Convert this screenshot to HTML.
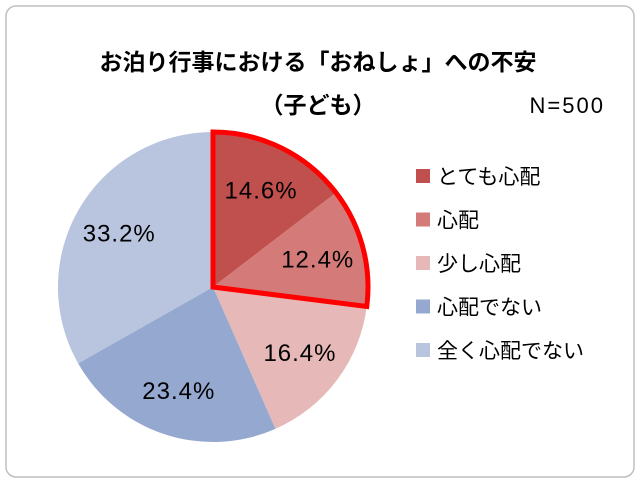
<!DOCTYPE html>
<html><head><meta charset="utf-8"><style>
body{margin:0;background:#fff;}
svg{display:block;font-family:"Liberation Sans","Noto Sans CJK JP",sans-serif;}
</style></head><body>
<svg width="640" height="483" viewBox="0 0 640 483">
<rect x="6" y="6" width="628" height="471" rx="10" fill="#fff" stroke="#bfbfbf" stroke-width="1.5"/>
<text x="318" y="70" text-anchor="middle" font-size="23" font-weight="bold" fill="#000">お泊り行事における「おねしょ」への不安</text>
<text x="318" y="113" text-anchor="middle" font-size="23" font-weight="bold" fill="#000">（子ども）</text>
<text x="605" y="113" text-anchor="end" font-size="22" letter-spacing="2" fill="#000">N=500</text>
<g id="pie"></g>
<g id="legend"></g>
</svg>
<script>
const categories=["とても心配","心配","少し心配","心配でない","全く心配でない"];
const values=[14.6,12.4,16.4,23.4,33.2];
const colors=["#c0504d","#d47b79","#e6b9b8","#95a8d0","#b9c4df"];
const highlighted=[0,1];
const NS="http://www.w3.org/2000/svg";
const cx=213,cy=287,r=155;
const pie=document.getElementById('pie');
const total=values.reduce((a,b)=>a+b,0);
function pt(a,rr){return [cx+rr*Math.sin(a),cy-rr*Math.cos(a)];}
let acc=0;const angs=[];
values.forEach((v,i)=>{
  const a0=acc/total*2*Math.PI;acc+=v;const a1=acc/total*2*Math.PI;angs.push([a0,a1]);
  const p0=pt(a0,r),p1=pt(a1,r);const large=(a1-a0)>Math.PI?1:0;
  const path=document.createElementNS(NS,'path');
  path.setAttribute('d',`M${cx},${cy}L${p0[0]},${p0[1]}A${r},${r} 0 ${large} 1 ${p1[0]},${p1[1]}Z`);
  path.setAttribute('fill',colors[i]);
  
  
  pie.appendChild(path);
});
values.forEach((v,i)=>{
  const m=(angs[i][0]+angs[i][1])/2;const p=pt(m,r*0.7);
  const t=document.createElementNS(NS,'text');
  t.setAttribute('x',p[0]);t.setAttribute('y',p[1]+9);
  t.setAttribute('text-anchor','middle');t.setAttribute('font-size','24');t.setAttribute('letter-spacing','1');t.setAttribute('fill','#000');
  t.textContent=v.toFixed(1)+'%';
  
  
  pie.appendChild(t);
});
const h0=angs[highlighted[0]][0],h1=angs[highlighted[highlighted.length-1]][1];
const q0=pt(h0,r),q1=pt(h1,r);
const hl=document.createElementNS(NS,'path');
hl.setAttribute('d',`M${cx},${cy}L${q0[0]},${q0[1]}A${r},${r} 0 0 1 ${q1[0]},${q1[1]}Z`);
hl.setAttribute('fill','none');hl.setAttribute('stroke','#ff0000');hl.setAttribute('stroke-width','5');hl.setAttribute('stroke-linejoin','miter');


pie.appendChild(hl);
const lg=document.getElementById('legend');
categories.forEach((c,i)=>{
  const y=176+i*43.5;
  const g=document.createElementNS(NS,'g');
  
  
  const s=document.createElementNS(NS,'rect');
  s.setAttribute('x',416);s.setAttribute('y',y-7);s.setAttribute('width',14);s.setAttribute('height',14);s.setAttribute('fill',colors[i]);
  const t=document.createElementNS(NS,'text');
  t.setAttribute('x',437);t.setAttribute('y',y+8);t.setAttribute('font-size','21');t.setAttribute('fill','#000');
  t.textContent=c;
  g.appendChild(s);g.appendChild(t);lg.appendChild(g);
});
</script>
</body></html>
